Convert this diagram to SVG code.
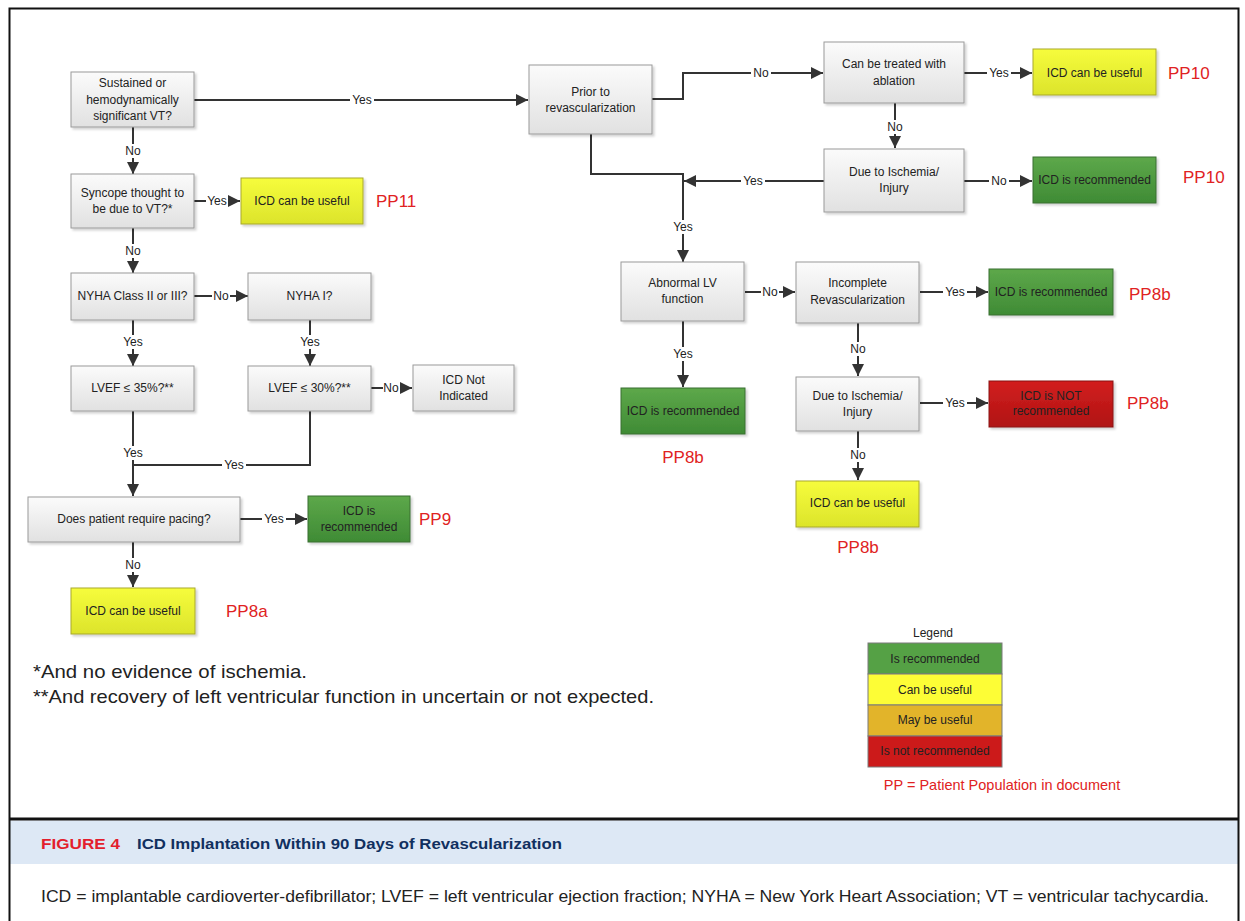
<svg xmlns="http://www.w3.org/2000/svg" width="1245" height="921" viewBox="0 0 1245 921">
<style>
.t{font-family:"Liberation Sans",Arial,sans-serif;font-size:12px;fill:#222;text-anchor:middle;dominant-baseline:central}
.lbl{font-family:"Liberation Sans",Arial,sans-serif;font-size:12px;fill:#222;text-anchor:middle;dominant-baseline:central}
.pp{font-family:"Liberation Sans",Arial,sans-serif;font-size:17px;fill:#e02222;dominant-baseline:central}
.gray{fill:url(#gG);stroke:#9a9a9a;stroke-width:1}
.green{fill:url(#gGr);stroke:#3a6e30;stroke-width:1}
.yellow{fill:url(#gY);stroke:#a9a92e;stroke-width:1}
.red{fill:url(#gR);stroke:#8a1010;stroke-width:1}
.c{fill:none;stroke:#333;stroke-width:2}
.a{marker-end:url(#arr)}
.bg{fill:#fff}
.leg{font-family:"Liberation Sans",Arial,sans-serif;font-size:12px;fill:#222;text-anchor:middle;dominant-baseline:central}
</style>
<defs>
<linearGradient id="gG" x1="0" y1="0" x2="0" y2="1"><stop offset="0" stop-color="#fbfbfb"/><stop offset="1" stop-color="#e1e1e1"/></linearGradient>
<linearGradient id="gGr" x1="0" y1="0" x2="0" y2="1"><stop offset="0" stop-color="#5da84a"/><stop offset="1" stop-color="#3f8b35"/></linearGradient>
<linearGradient id="gY" x1="0" y1="0" x2="0" y2="1"><stop offset="0" stop-color="#f6fc3c"/><stop offset="1" stop-color="#dce42b"/></linearGradient>
<linearGradient id="gR" x1="0" y1="0" x2="0" y2="1"><stop offset="0" stop-color="#d21e1e"/><stop offset="1" stop-color="#b01414"/></linearGradient>
<filter id="sh" x="-10%" y="-10%" width="120%" height="130%"><feDropShadow dx="2" dy="2" stdDeviation="1.2" flood-color="#000" flood-opacity="0.18"/></filter>
<marker id="arr" markerWidth="12" markerHeight="12" refX="10" refY="5" orient="auto" markerUnits="userSpaceOnUse" viewBox="0 0 10 10"><path d="M0,0 L10,5 L0,10 z" fill="#333"/></marker>
</defs>
<rect width="1245" height="921" fill="#fff"/>
<g id="frame">
<rect x="10" y="820.5" width="1228" height="43.5" fill="#dde8f5"/>
<path d="M9.5,921 V8.5 H1238.5 V921" fill="none" stroke="#111" stroke-width="2"/>
<line x1="9" y1="819" x2="1239" y2="819" stroke="#111" stroke-width="3"/>
</g>
<g id="connectors">
<line class="c a" x1="194" y1="100" x2="528" y2="100"/>
<line class="c a" x1="133" y1="127" x2="133" y2="174"/>
<line class="c a" x1="194" y1="201" x2="240" y2="201"/>
<line class="c a" x1="133" y1="228" x2="133" y2="273"/>
<line class="c a" x1="194" y1="296" x2="248" y2="296"/>
<line class="c a" x1="133" y1="320" x2="133" y2="366"/>
<line class="c a" x1="310" y1="320" x2="310" y2="366"/>
<line class="c a" x1="371" y1="388" x2="412" y2="388"/>
<line class="c a" x1="133" y1="411" x2="133" y2="496"/>
<polyline class="c" points="310,411 310,465 133,465"/>
<line class="c a" x1="240" y1="519" x2="307" y2="519"/>
<line class="c a" x1="133" y1="542" x2="133" y2="587"/>
<polyline class="c a" points="652,99 683,99 683,73 823,73"/>
<polyline class="c a" points="591,134 591,174 683,174 683,262"/>
<line class="c a" x1="824" y1="181" x2="684" y2="181"/>
<line class="c a" x1="964" y1="73" x2="1032" y2="73"/>
<line class="c a" x1="895" y1="103" x2="895" y2="148"/>
<line class="c a" x1="964" y1="181" x2="1032" y2="181"/>
<line class="c a" x1="745" y1="292" x2="795" y2="292"/>
<line class="c a" x1="683" y1="321" x2="683" y2="387"/>
<line class="c a" x1="920" y1="292" x2="988" y2="292"/>
<line class="c a" x1="858" y1="323" x2="858" y2="376"/>
<line class="c a" x1="920" y1="403" x2="988" y2="403"/>
<line class="c a" x1="858" y1="431" x2="858" y2="480"/>
<rect class="bg" x="350" y="93" width="24" height="14"/><text class="lbl" x="362" y="100">Yes</text>
<rect class="bg" x="123" y="144" width="20" height="14"/><text class="lbl" x="133" y="151">No</text>
<rect class="bg" x="206" y="194" width="22" height="14"/><text class="lbl" x="217" y="201">Yes</text>
<rect class="bg" x="123" y="244" width="20" height="14"/><text class="lbl" x="133" y="251">No</text>
<rect class="bg" x="212" y="289" width="18" height="14"/><text class="lbl" x="221" y="296">No</text>
<rect class="bg" x="121" y="335" width="24" height="14"/><text class="lbl" x="133" y="342">Yes</text>
<rect class="bg" x="298" y="335" width="24" height="14"/><text class="lbl" x="310" y="342">Yes</text>
<rect class="bg" x="383" y="381" width="17" height="14"/><text class="lbl" x="391" y="388">No</text>
<rect class="bg" x="121" y="446" width="24" height="14"/><text class="lbl" x="133" y="453">Yes</text>
<rect class="bg" x="222" y="458" width="24" height="14"/><text class="lbl" x="234" y="465">Yes</text>
<rect class="bg" x="262" y="512" width="24" height="14"/><text class="lbl" x="274" y="519">Yes</text>
<rect class="bg" x="123" y="558" width="20" height="14"/><text class="lbl" x="133" y="565">No</text>
<rect class="bg" x="751" y="66" width="20" height="14"/><text class="lbl" x="761" y="73">No</text>
<rect class="bg" x="671" y="220" width="24" height="14"/><text class="lbl" x="683" y="227">Yes</text>
<rect class="bg" x="741" y="174" width="24" height="14"/><text class="lbl" x="753" y="181">Yes</text>
<rect class="bg" x="987" y="66" width="24" height="14"/><text class="lbl" x="999" y="73">Yes</text>
<rect class="bg" x="885" y="120" width="20" height="14"/><text class="lbl" x="895" y="127">No</text>
<rect class="bg" x="989" y="174" width="20" height="14"/><text class="lbl" x="999" y="181">No</text>
<rect class="bg" x="761" y="285" width="18" height="14"/><text class="lbl" x="770" y="292">No</text>
<rect class="bg" x="671" y="347" width="24" height="14"/><text class="lbl" x="683" y="354">Yes</text>
<rect class="bg" x="943" y="285" width="24" height="14"/><text class="lbl" x="955" y="292">Yes</text>
<rect class="bg" x="848" y="342" width="20" height="14"/><text class="lbl" x="858" y="349">No</text>
<rect class="bg" x="943" y="396" width="24" height="14"/><text class="lbl" x="955" y="403">Yes</text>
<rect class="bg" x="848" y="448" width="20" height="14"/><text class="lbl" x="858" y="455">No</text>
</g>
<g id="n-sustained"><rect class="gray" filter="url(#sh)" x="71" y="72" width="123" height="55"/><text class="t" x="132.5" y="83">Sustained or</text><text class="t" x="132.5" y="100">hemodynamically</text><text class="t" x="132.5" y="116">significant VT?</text></g>
<g id="n-syncope"><rect class="gray" filter="url(#sh)" x="71" y="174" width="123" height="54"/><text class="t" x="132.5" y="193">Syncope thought to</text><text class="t" x="132.5" y="209">be due to VT?*</text></g>
<g id="n-useful11"><rect class="yellow" filter="url(#sh)" x="241" y="178" width="122" height="46"/><text class="t" x="302" y="201">ICD can be useful</text></g>
<text id="pp11" class="pp" x="376" y="201">PP11</text>
<g id="n-nyha23"><rect class="gray" filter="url(#sh)" x="71" y="273" width="123" height="47"/><text class="t" x="132.5" y="296">NYHA Class II or III?</text></g>
<g id="n-nyha1"><rect class="gray" filter="url(#sh)" x="248" y="273" width="123" height="47"/><text class="t" x="309.5" y="296">NYHA I?</text></g>
<g id="n-lvef35"><rect class="gray" filter="url(#sh)" x="71" y="366" width="123" height="45"/><text class="t" x="132.5" y="388">LVEF ≤ 35%?**</text></g>
<g id="n-lvef30"><rect class="gray" filter="url(#sh)" x="248" y="366" width="123" height="45"/><text class="t" x="309.5" y="388">LVEF ≤ 30%?**</text></g>
<g id="n-notind"><rect class="gray" filter="url(#sh)" x="413" y="365" width="101" height="46"/><text class="t" x="463.5" y="380">ICD Not</text><text class="t" x="463.5" y="396">Indicated</text></g>
<g id="n-pacing"><rect class="gray" filter="url(#sh)" x="28" y="497" width="212" height="45"/><text class="t" x="134" y="519">Does patient require pacing?</text></g>
<g id="n-rec9"><rect class="green" filter="url(#sh)" x="308" y="496" width="102" height="46"/><text class="t" x="359" y="511">ICD is</text><text class="t" x="359" y="527">recommended</text></g>
<text id="pp9" class="pp" x="419" y="519">PP9</text>
<g id="n-useful8a"><rect class="yellow" filter="url(#sh)" x="71" y="588" width="124" height="46"/><text class="t" x="133" y="611">ICD can be useful</text></g>
<text id="pp8a" class="pp" x="226" y="611">PP8a</text>
<g id="n-prior"><rect class="gray" filter="url(#sh)" x="529" y="65" width="123" height="69"/><text class="t" x="590.5" y="92">Prior to</text><text class="t" x="590.5" y="108">revascularization</text></g>
<g id="n-ablation"><rect class="gray" filter="url(#sh)" x="824" y="42" width="140" height="61"/><text class="t" x="894" y="64">Can be treated with</text><text class="t" x="894" y="81">ablation</text></g>
<g id="n-useful10"><rect class="yellow" filter="url(#sh)" x="1033" y="49" width="123" height="46"/><text class="t" x="1094.5" y="73">ICD can be useful</text></g>
<text id="pp10a" class="pp" x="1168" y="73">PP10</text>
<g id="n-isch1"><rect class="gray" filter="url(#sh)" x="824" y="149" width="140" height="63"/><text class="t" x="894" y="172">Due to Ischemia/</text><text class="t" x="894" y="188">Injury</text></g>
<g id="n-rec10"><rect class="green" filter="url(#sh)" x="1033" y="157" width="123" height="46"/><text class="t" x="1094.5" y="180">ICD is recommended</text></g>
<text id="pp10b" class="pp" x="1183" y="177">PP10</text>
<g id="n-abnlv"><rect class="gray" filter="url(#sh)" x="621" y="262" width="123" height="59"/><text class="t" x="682.5" y="283">Abnormal LV</text><text class="t" x="682.5" y="299">function</text></g>
<g id="n-incomplete"><rect class="gray" filter="url(#sh)" x="796" y="262" width="123" height="61"/><text class="t" x="857.5" y="283">Incomplete</text><text class="t" x="857.5" y="300">Revascularization</text></g>
<g id="n-rec8b1"><rect class="green" filter="url(#sh)" x="989" y="269" width="124" height="46"/><text class="t" x="1051" y="292">ICD is recommended</text></g>
<text id="pp8b1" class="pp" x="1129" y="294">PP8b</text>
<g id="n-rec8b2"><rect class="green" filter="url(#sh)" x="621" y="388" width="124" height="46"/><text class="t" x="683" y="411">ICD is recommended</text></g>
<text id="pp8b2" class="pp" x="683" y="457" text-anchor="middle">PP8b</text>
<g id="n-isch2"><rect class="gray" filter="url(#sh)" x="796" y="377" width="123" height="54"/><text class="t" x="857.5" y="396">Due to Ischemia/</text><text class="t" x="857.5" y="412">Injury</text></g>
<g id="n-notrec"><rect class="red" filter="url(#sh)" x="989" y="381" width="124" height="46"/><text class="t" x="1051" y="396">ICD is NOT</text><text class="t" x="1051" y="411">recommended</text></g>
<text id="pp8b3" class="pp" x="1127" y="403">PP8b</text>
<g id="n-useful8b"><rect class="yellow" filter="url(#sh)" x="796" y="481" width="123" height="46"/><text class="t" x="857.5" y="503">ICD can be useful</text></g>
<text id="pp8b4" class="pp" x="858" y="547" text-anchor="middle">PP8b</text>
<g id="legend">
<text class="leg" x="933" y="633">Legend</text>
<rect x="868" y="643" width="134" height="31" fill="#55a145" stroke="#7a7a7a" stroke-width="1"/>
<rect x="868" y="674" width="134" height="31" fill="#fdfd36" stroke="#7a7a7a" stroke-width="1"/>
<rect x="868" y="705" width="134" height="31" fill="#e2b42a" stroke="#7a7a7a" stroke-width="1"/>
<rect x="868" y="736" width="134" height="31" fill="#cc1a1a" stroke="#7a7a7a" stroke-width="1"/>
<text class="leg" x="935" y="659">Is recommended</text>
<text class="leg" x="935" y="690">Can be useful</text>
<text class="leg" x="935" y="720">May be useful</text>
<text class="leg" x="935" y="751">Is not recommended</text>
<text x="1002" y="785" font-family="Liberation Sans, Arial, sans-serif" font-size="14.5" fill="#e02222" text-anchor="middle" dominant-baseline="central">PP = Patient Population in document</text>
</g>
<g id="footnotes" font-family="Liberation Sans, Arial, sans-serif" font-size="18.5" fill="#222">
<text x="33" y="678" textLength="274" lengthAdjust="spacingAndGlyphs">*And no evidence of ischemia.</text>
<text x="33" y="703" textLength="621" lengthAdjust="spacingAndGlyphs">**And recovery of left ventricular function in uncertain or not expected.</text>
</g>
<g id="caption" font-family="Liberation Sans, Arial, sans-serif">
<text x="41" y="849" font-size="14.5" font-weight="bold" fill="#e31e2d" textLength="79" lengthAdjust="spacingAndGlyphs">FIGURE 4</text>
<text x="137" y="849" font-size="15.5" font-weight="bold" fill="#11305f" textLength="425" lengthAdjust="spacingAndGlyphs">ICD Implantation Within 90 Days of Revascularization</text>
<text x="41" y="902" font-size="16.5" fill="#222" textLength="1168" lengthAdjust="spacingAndGlyphs">ICD = implantable cardioverter-defibrillator; LVEF = left ventricular ejection fraction; NYHA = New York Heart Association; VT = ventricular tachycardia.</text>
</g>
</svg>
